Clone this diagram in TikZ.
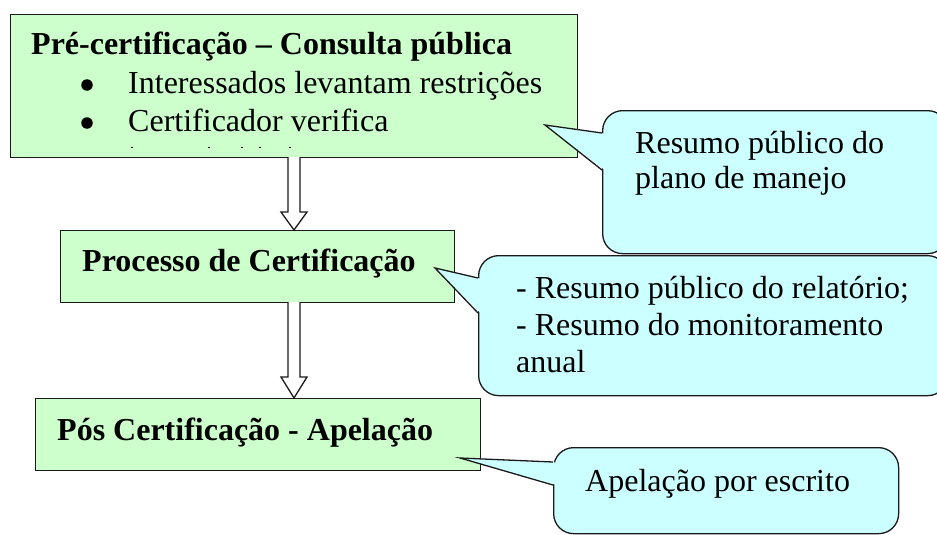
\documentclass[tikz,border=0pt]{standalone}
\usepackage{fontspec}
\setmainfont{Liberation Serif}
\usetikzlibrary{calc}
\definecolor{boxgreen}{HTML}{CCFFCC}
\definecolor{callcyan}{HTML}{CCFFFF}
\definecolor{edgecol}{HTML}{1A1A1A}
\begin{document}
\begin{tikzpicture}[x=1pt,y=-1pt,
  greenbox/.style={draw=edgecol, line width=1.4pt, fill=boxgreen, inner sep=0pt, anchor=north west},
  callbody/.style={draw=edgecol, line width=1.3pt, fill=callcyan, rounded corners=20pt, inner sep=0pt, anchor=north west},
  tailfill/.style={fill=callcyan},
  tailline/.style={draw=edgecol, line width=1.3pt, line join=miter},
  blockarrow/.style={draw=edgecol, line width=1.3pt, fill=white, line join=miter},
  titletxt/.style={anchor=base west, inner sep=0pt, font=\fontsize{32}{37}\selectfont\bfseries},
  bodytxt/.style={anchor=base west, inner sep=0pt, font=\fontsize{32}{37}\selectfont},
  bulletdot/.style={circle, fill=black, inner sep=0pt, minimum size=11.5pt},
  marktxt/.style={draw=black, line width=0.8pt}]
\useasboundingbox (0,0) rectangle (937,535);
\clip (0,0) rectangle (937,535);

% green boxes
\node[greenbox, minimum width=567pt, minimum height=143pt] (pre) at (10,14) {};
\node[greenbox, minimum width=394pt, minimum height=72pt] (proc) at (60,230) {};
\node[greenbox, minimum width=445pt, minimum height=72pt] (pos) at (35,398) {};

% texts of boxes
\node[titletxt] (pretitle) at (31,55) {Pré-certificação – Consulta pública};
\node[bulletdot] (b1) at (87,85) {};
\node[bodytxt] (l1) at (128,93) {Interessados levantam restrições};
\node[bulletdot] (b2) at (87,123) {};
\node[bodytxt] (l2) at (128,131.5) {Certificador verifica};
% clipped remains of a third line
\foreach \mx in {131,208,241,259,289}{\draw[marktxt] (\mx,147.5) -- (\mx+2,147.5);}
\node[titletxt] (proctitle) at (82,271.5) {Processo de Certificação};
\node[titletxt] (postitle) at (57,440) {Pós Certificação - Apelação};

% block arrows
\coordinate (a1s) at (294,157);
\coordinate (a1e) at (294,230);
\coordinate (a2s) at (294,302);
\coordinate (a2e) at (294,398);
\draw[blockarrow] ($(a1s)+(-6,0)$) -- ($(a1e)+(-6,-18)$) -- ($(a1e)+(-13,-18)$) -- (a1e)
  -- ($(a1e)+(13,-18)$) -- ($(a1e)+(6,-18)$) -- ($(a1s)+(6,0)$);
\draw[blockarrow] ($(a2s)+(-6,0)$) -- ($(a2e)+(-6,-21)$) -- ($(a2e)+(-13,-21)$) -- (a2e)
  -- ($(a2e)+(13,-21)$) -- ($(a2e)+(6,-21)$) -- ($(a2s)+(6,0)$);

% callout 1
\node[callbody, minimum width=345pt, minimum height=143pt] (c1) at (602,110) {};
\coordinate (c1tip) at (545,125);
\fill[tailfill] (c1tip) -- (604,133.5) -- (604,169.5) -- cycle;
\draw[tailline] (602,133) -- (c1tip) -- (602,170);
\node[bodytxt] (c1a) at (635,153) {Resumo público do};
\node[bodytxt] (c1b) at (635,188) {plano de manejo};

% callout 2
\node[callbody, minimum width=469pt, minimum height=140pt] (c2) at (478,255) {};
\coordinate (c2tip) at (435,268);
\fill[tailfill] (c2tip) -- (480,278.5) -- (480,312.5) -- cycle;
\draw[tailline] (478,278) -- (c2tip) -- (478,313);
\node[bodytxt] (c2a) at (516,298) {- Resumo público do relatório;};
\node[bodytxt] (c2b) at (516,335) {- Resumo do monitoramento};
\node[bodytxt] (c2c) at (516,372) {anual};

% callout 3
\node[callbody, minimum width=345pt, minimum height=86pt] (c3) at (553,447) {};
\coordinate (c3tip) at (460,458);
\fill[tailfill] (c3tip) -- (555,462.5) -- (555,484.5) -- cycle;
\draw[tailline] (553,462) -- (c3tip) -- (553,485);
\node[bodytxt] (c3a) at (585,491) {Apelação por escrito};
\end{tikzpicture}
\end{document}
